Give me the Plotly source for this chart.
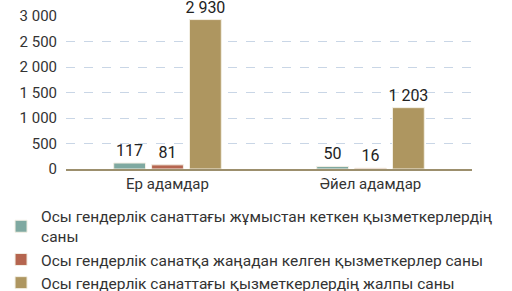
import plotly.graph_objects as go

categories = ["Ер адамдар", "Әйел адамдар"]
series_names = [
    "Осы гендерлік санаттағы жұмыстан кеткен қызметкерлердің<br>саны",
    "Осы гендерлік санатқа жаңадан келген қызметкерлер саны",
    "Осы гендерлік санаттағы қызметкерлердің жалпы саны",
]
left_values = [117, 50]
new_values = [81, 16]
total_values = [2930, 1203]
colors = ["#7FA9A1", "#B5654F", "#AE9660"]

fig = go.Figure()
for name, vals, col in zip(series_names, [left_values, new_values, total_values], colors):
    fig.add_trace(go.Bar(
        x=categories, y=vals, name=name,
        marker=dict(color=col, line=dict(color="#f3efe4", width=1)),
        texttemplate="%{y:,d}", textposition="outside", constraintext="none",
        textfont=dict(size=16, color="#222222", family="Roboto"),
        cliponaxis=False,
    ))

fig.update_layout(
    width=512, height=291,
    margin=dict(l=66, r=40, t=16, b=122, autoexpand=False),
    paper_bgcolor="white", plot_bgcolor="white",
    barmode="group", bargap=0.44, bargroupgap=0.16,
    separators=", ",
    font=dict(family="Roboto", size=13, color="#333333"),
    showlegend=True,
    legend=dict(
        orientation="v", x=-0.16, xanchor="left", y=-0.2, yanchor="top",
        font=dict(size=15.5, color="#333333"),
        traceorder="normal",
    ),
    xaxis=dict(
        showgrid=False, showline=True, linecolor="#9c8f6d", linewidth=2,
        ticks="", tickfont=dict(size=15, color="#333333"),
    ),
    yaxis=dict(
        range=[0, 3000], tickvals=[0, 500, 1000, 1500, 2000, 2500, 3000],
        tickformat=",d", showgrid=True, gridcolor="#c9d6e6", griddash="dash",
        gridwidth=1, zeroline=False, tickfont=dict(size=15, color="#333333"),
        ticklabelstandoff=8,
    ),
)

fig.write_html("out.html")
